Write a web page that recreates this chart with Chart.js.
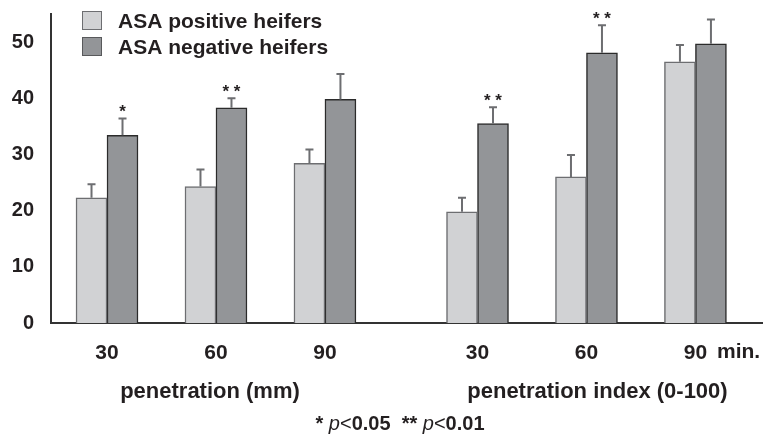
<!DOCTYPE html>
<html>
<head>
<meta charset="utf-8">
<script src="https://cdn.jsdelivr.net/npm/chart.js@4.4.0/dist/chart.umd.min.js"></script>
<style>
  body { margin: 0; background: #fff; }
  #wrap { width: 763px; height: 439px; }
</style>
</head>
<body>
<div id="wrap"><canvas id="myChart" width="763" height="439"></canvas></div>
<script>
//Datos
var timeLabels = ['30', '60', '90', '30', '60', '90'];
var positiveMean = [22.3, 24.3, 28.4, 19.8, 26.0, 46.5];
var positiveErr = [2.4, 3.0, 2.5, 2.5, 3.9, 3.0];
var negativeMean = [33.4, 38.3, 39.8, 35.5, 48.1, 49.7];
var negativeErr = [3.0, 1.7, 4.5, 2.9, 4.9, 4.3];
var signif = ['*', '* *', '', '* *', '* *', ''];
var seriesNames = ['ASA positive heifers', 'ASA negative heifers'];
var groupTitles = ['penetration (mm)', 'penetration index (0-100)'];
var yTicks = [0, 10, 20, 30, 40, 50];

// slot de cada grupo en el eje x (hay un hueco entre las dos mitades)
var slot = [0, 1, 2, 3.4, 4.4, 5.4];

var lightGray = '#d1d2d4';
var darkGray = '#939598';
var ink = '#231f20';
var FONT = '"Liberation Sans", Arial, sans-serif';

function points(values) {
    return values.map(function (v, i) { return { x: slot[i], y: v }; });
}

//Barras de error, asteriscos, leyenda y textos
var extras = {
    id: 'extras',
    afterDatasetsDraw: function (chart) {
        var ctx = chart.ctx;
        var y = chart.scales.y;
        var errs = [positiveErr, negativeErr];
        var means = [positiveMean, negativeMean];

        ctx.save();
        for (var d = 0; d < 2; d++) {
            var meta = chart.getDatasetMeta(d);
            meta.data.forEach(function (bar, i) {
                var top = y.getPixelForValue(means[d][i] + errs[d][i]);
                ctx.strokeStyle = '#6d6e71';
                ctx.lineWidth = 2;
                ctx.beginPath();
                ctx.moveTo(bar.x, bar.y);
                ctx.lineTo(bar.x, top);
                ctx.moveTo(bar.x - 4, top);
                ctx.lineTo(bar.x + 4, top);
                ctx.stroke();

                if (d === 1 && signif[i]) {
                    ctx.fillStyle = ink;
                    ctx.font = 'bold 17px ' + FONT;
                    ctx.textAlign = 'center';
                    ctx.textBaseline = 'alphabetic';
                    ctx.fillText(signif[i], bar.x, top - 1);
                }
            });
        }
        ctx.restore();
    },
    afterDraw: function (chart) {
        var ctx = chart.ctx;
        var x = chart.scales.x;
        ctx.save();

        // leyenda
        var fills = [lightGray, darkGray];
        var borders = ['#6d6e71', '#58595b'];
        for (var k = 0; k < 2; k++) {
            ctx.fillStyle = fills[k];
            ctx.fillRect(82, 11 + k * 26, 20, 19);
            ctx.strokeStyle = borders[k];
            ctx.lineWidth = 1;
            ctx.strokeRect(82.5, 11.5 + k * 26, 19, 18);
            ctx.fillStyle = ink;
            ctx.font = 'bold 21px ' + FONT;
            ctx.textAlign = 'left';
            ctx.textBaseline = 'alphabetic';
            ctx.fillText(seriesNames[k], 118, 28 + k * 26);
        }

        // "min." junto al ultimo tick
        ctx.font = 'bold 21px ' + FONT;
        ctx.fillText('min.', 717, 358);

        // titulos de grupo
        ctx.textAlign = 'center';
        var c1 = (x.getPixelForValue(slot[0]) + x.getPixelForValue(slot[2])) / 2;
        var c2 = (x.getPixelForValue(slot[3]) + x.getPixelForValue(slot[5])) / 2;
        ctx.font = 'bold 22px ' + FONT;
        ctx.fillText(groupTitles[0], c1 - 6, 398);
        ctx.fillText(groupTitles[1], c2 + 11, 398);

        // nota al pie
        var parts = [
            ['bold 20px ', '* '], ['italic 20px ', 'p'], ['20px ', '<'], ['bold 20px ', '0.05  '],
            ['bold 20px ', '** '], ['italic 20px ', 'p'], ['20px ', '<'], ['bold 20px ', '0.01']
        ];
        var total = 0;
        parts.forEach(function (p) { ctx.font = p[0] + FONT; total += ctx.measureText(p[1]).width; });
        var cx = 400 - total / 2;
        ctx.textAlign = 'left';
        parts.forEach(function (p) {
            ctx.font = p[0] + FONT;
            ctx.fillText(p[1], cx, 430);
            cx += ctx.measureText(p[1]).width;
        });
        ctx.restore();
    }
};

var ctx = document.getElementById('myChart').getContext('2d');
var myChart = new Chart(ctx, {
    type: 'bar',
    data: {
        datasets: [{
            label: seriesNames[0],
            data: points(positiveMean),
            backgroundColor: lightGray,
            borderColor: '#6d6e71',
            borderWidth: 1.5,
            barThickness: 31
        }, {
            label: seriesNames[1],
            data: points(negativeMean),
            backgroundColor: darkGray,
            borderColor: '#2b2b2b',
            borderWidth: 1.5,
            barThickness: 31
        }]
    },
    options: {
        responsive: false,
        animation: false,
        layout: { padding: { top: 14, right: 0, left: 0, bottom: 0 } },
        plugins: {
            legend: { display: false },
            tooltip: { enabled: false }
        },
        scales: {
            x: {
                type: 'linear',
                offset: false,
                min: -0.514,
                max: 6.02,
                grid: { display: false, drawTicks: false },
                border: { color: '#333', width: 2 },
                afterBuildTicks: function (scale) {
                    scale.ticks = slot.map(function (v) { return { value: v }; });
                },
                afterFit: function (scale) {
                    scale.height = 116;
                    scale.paddingLeft = 0;
                    scale.paddingRight = 0;
                },
                ticks: {
                    autoSkip: false,
                    maxRotation: 0,
                    padding: 18,
                    color: ink,
                    font: { family: FONT, size: 21, weight: 'bold' },
                    callback: function (value, index) { return timeLabels[index]; }
                }
            },
            y: {
                min: 0,
                max: 55,
                grid: { display: false, drawTicks: false },
                border: { color: '#333', width: 2 },
                afterBuildTicks: function (scale) {
                    scale.ticks = yTicks.map(function (v) { return { value: v }; });
                },
                afterFit: function (scale) {
                    scale.width = 51;
                    scale.paddingTop = 0;
                    scale.paddingBottom = 0;
                },
                ticks: {
                    padding: 17,
                    color: ink,
                    font: { family: FONT, size: 20, weight: 'bold' }
                }
            }
        }
    },
    plugins: [extras]
});
</script>
</body>
</html>
